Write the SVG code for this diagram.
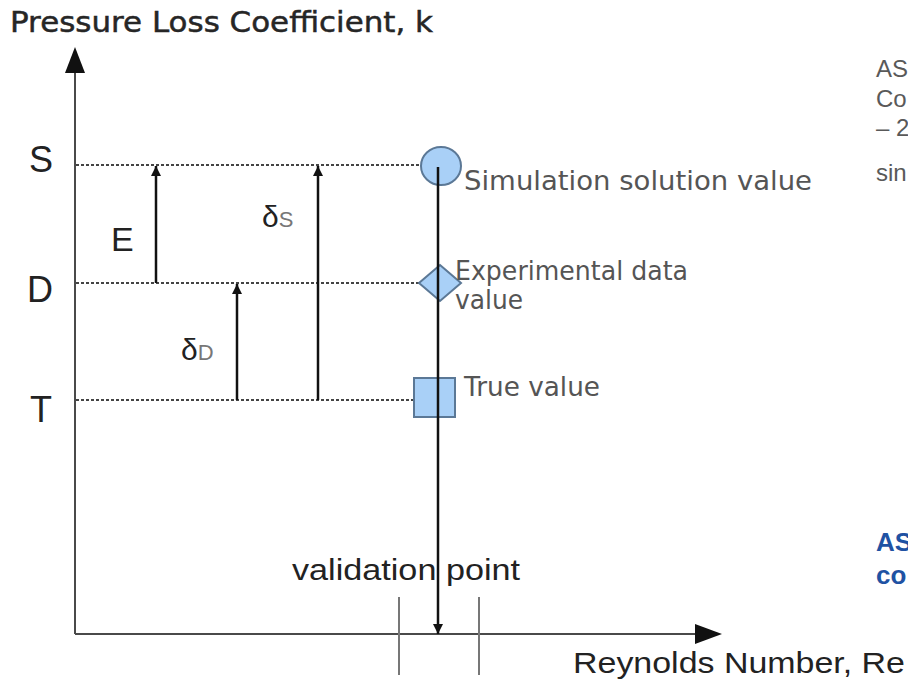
<svg xmlns="http://www.w3.org/2000/svg" width="908" height="679" viewBox="0 0 908 679">
<defs>
<style>
.axis{stroke:#4a4a4a;stroke-width:2;fill:none}
.tick{stroke:#777;stroke-width:2;fill:none}
.dash{stroke:#444;stroke-width:1.8;stroke-dasharray:3 2;fill:none}
.arr{stroke:#111;stroke-width:2.5;fill:none}
.lbl{font-family:"DejaVu Sans",sans-serif;fill:#555}
.big{font-family:"Liberation Sans",Arial,sans-serif;fill:#222}
.side{font-family:"Liberation Sans",Arial,sans-serif;fill:#595959;font-size:24px}
.blue{font-family:"Liberation Sans",Arial,sans-serif;fill:#1f52a3;font-size:26px;font-weight:bold}
.mk{fill:#a9d0f7;stroke:#5b7896;stroke-width:2}
</style>
<marker id="ah" viewBox="0 0 10 10" refX="10" refY="5" markerWidth="4" markerHeight="4" orient="auto"><path d="M0,0 L10,5 L0,10 z" fill="#111"/></marker>
</defs>
<rect width="908" height="679" fill="#fff"/>

<g id="title"><text class="lbl" x="10" y="32" font-size="29" style="fill:#262626;stroke:#262626;stroke-width:0.5" textLength="423" lengthAdjust="spacingAndGlyphs">Pressure Loss Coefficient, k</text></g>

<g id="axes">
<line class="axis" x1="75" y1="634" x2="75" y2="70"/>
<path d="M75,47 L65,73 L85,73 z" fill="#111"/>
<line class="axis" x1="75" y1="634" x2="700" y2="634"/>
<path d="M722,634 L695,624 L695,644 z" fill="#111"/>
<line class="tick" x1="399" y1="597" x2="399" y2="675"/>
<line class="tick" x1="479" y1="597" x2="479" y2="675"/>
</g>

<g id="levels">
<line class="dash" x1="76" y1="165" x2="425" y2="165"/>
<line class="dash" x1="76" y1="283" x2="420" y2="283"/>
<line class="dash" x1="76" y1="400" x2="438" y2="400"/>
<text class="big" x="29" y="172" font-size="36">S</text>
<text class="big" x="27" y="302" font-size="36">D</text>
<text class="big" x="30" y="422" font-size="36">T</text>
</g>

<g id="connectors">
<line class="arr" x1="156" y1="283" x2="156" y2="166" marker-end="url(#ah)"/>
<line class="arr" x1="237" y1="400" x2="237" y2="284" marker-end="url(#ah)"/>
<line class="arr" x1="318" y1="400" x2="318" y2="166" marker-end="url(#ah)"/>
</g>

<g id="label-E"><text class="big" x="111" y="251" font-size="34">E</text></g>
<g id="label-dS"><text class="big" x="262" y="227" font-size="30">δ<tspan font-size="22" fill="#777">S</tspan></text></g>
<g id="label-dD"><text class="big" x="181" y="360" font-size="30">δ<tspan font-size="22" fill="#777">D</tspan></text></g>

<g id="simulation">
<ellipse class="mk" cx="441" cy="166" rx="20" ry="19"/>
<text class="lbl" x="464" y="190" font-size="27" textLength="348" lengthAdjust="spacingAndGlyphs">Simulation solution value</text>
</g>
<g id="experimental">
<path class="mk" d="M440,265 L461,283 L440,301 L419,283 z"/>
<text class="lbl" x="455" y="280" font-size="27" textLength="233" lengthAdjust="spacingAndGlyphs">Experimental data</text>
<text class="lbl" x="455" y="309" font-size="27" textLength="68" lengthAdjust="spacingAndGlyphs">value</text>
</g>
<g id="true">
<rect class="mk" x="414" y="378" width="41" height="39"/>
<text class="lbl" x="464" y="396" font-size="27" textLength="136" lengthAdjust="spacingAndGlyphs">True value</text>
</g>

<g id="validation">
<line class="arr" x1="438" y1="167" x2="438" y2="634" marker-end="url(#ah)"/>
<text class="big" x="292" y="580" font-size="30" textLength="228" lengthAdjust="spacingAndGlyphs">validation point</text>
</g>
<g id="xlabel"><text class="big" x="573" y="673" font-size="30" textLength="332" lengthAdjust="spacingAndGlyphs">Reynolds Number, Re</text></g>

<g id="side-text">
<text class="side" x="876" y="77">AS</text>
<text class="side" x="876" y="107">Co</text>
<text class="side" x="876" y="136">– 2</text>
<text class="side" x="876" y="181">sin</text>
<text class="blue" x="876" y="551">AS</text>
<text class="blue" x="876" y="584">co</text>
</g>
</svg>
